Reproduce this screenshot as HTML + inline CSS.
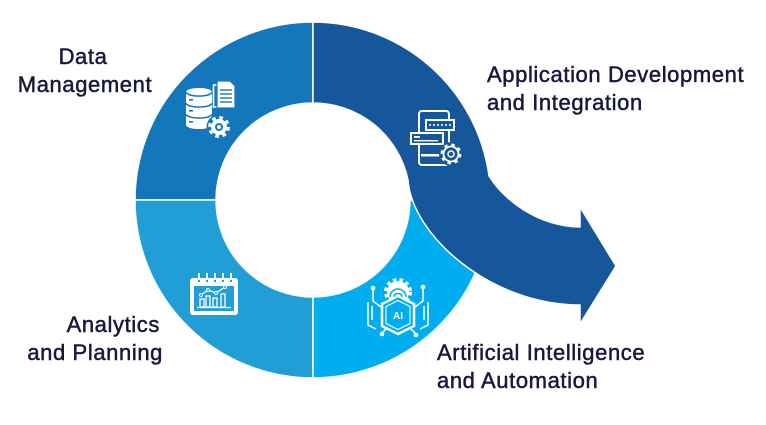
<!DOCTYPE html>
<html><head><meta charset="utf-8"><style>
html,body{margin:0;padding:0;background:#fff;}
svg{display:block}
text.lbl{font-family:"Liberation Sans",sans-serif;font-size:22px;fill:#17183f;stroke:#17183f;stroke-width:0.5px;letter-spacing:0.6px}
</style></head><body>
<svg width="766" height="425" viewBox="0 0 766 425" xmlns="http://www.w3.org/2000/svg">
<rect width="766" height="425" fill="#fff"/>
<g stroke="#fff" stroke-width="1.5">
<path fill="#1577bb" d="M135,200 A178,178 0 0 1 313,22 L313,103 A97,97 0 0 0 216,200 Z"/>
<path fill="#229ed6" d="M135,200 A178,178 0 0 0 313,378 L313,297 A97,97 0 0 1 216,200 Z"/>
<path fill="#00aeef" d="M313,378 A178,178 0 0 0 491,200 L410,200 A97,97 0 0 1 313,297 Z"/>
<path fill="#16579c" d="M313,22 A178,178 0 0 1 489,176 C503,198 535,226 580,227 L580,207 L616,266 L580,324 L580,305 C490,305 412,235 408,180 A97,97 0 0 0 313,103 Z"/>
</g>

<!-- Data management icon -->
<g>
<path fill="#fff" d="M186,92 A13,4 0 0 1 212,92 V125 A13,4 0 0 1 186,125 Z"/>
<g fill="none" stroke="#1577bb" stroke-width="1.6">
<path d="M186,92 A13,4 0 0 0 212,92"/>
<path d="M186,103 A13,4 0 0 0 212,103"/>
<path d="M186,114 A13,4 0 0 0 212,114"/>
</g>
<g fill="#1577bb">
<rect x="189" y="99" width="4" height="1.6"/>
<rect x="189" y="110" width="4" height="1.6"/>
<rect x="189" y="121" width="4" height="1.6"/>
</g>
<rect x="213.5" y="85" width="15" height="22" fill="none" stroke="#fff" stroke-width="1.6"/>
<path d="M217,81 H230 L235,86 V108 H217 Z" fill="#fff" stroke="#1577bb" stroke-width="1.2"/>
<g stroke="#1577bb" stroke-width="1.4">
<line x1="220" y1="90" x2="232" y2="90"/>
<line x1="220" y1="94" x2="232" y2="94"/>
<line x1="220" y1="98" x2="232" y2="98"/>
<line x1="220" y1="102" x2="232" y2="102"/>
</g>
<circle cx="219" cy="127" r="12.5" fill="#1577bb"/>
<circle cx="219" cy="127" r="9" fill="none" stroke="#fff" stroke-width="4" stroke-dasharray="3.5 3.57"/>
<circle cx="219" cy="127" r="8" fill="#fff"/>
<circle cx="219" cy="127" r="4" fill="#1577bb"/>
<circle cx="219" cy="127" r="2" fill="#fff"/>
</g>

<!-- App icon -->
<g>
<rect x="419" y="111" width="30" height="54" rx="3" fill="none" stroke="#fff" stroke-width="2"/>
<rect x="426" y="120" width="28" height="10" fill="#16579c" stroke="#fff" stroke-width="2"/>
<g fill="#fff">
<circle cx="430" cy="125" r="1"/><circle cx="434" cy="125" r="1"/><circle cx="438" cy="125" r="1"/>
<circle cx="442" cy="125" r="1"/><circle cx="446" cy="125" r="1"/><circle cx="450" cy="125" r="1"/>
</g>
<rect x="411" y="133" width="32" height="11" fill="#16579c" stroke="#fff" stroke-width="2"/>
<rect x="414" y="136" width="6" height="1.8" fill="#fff"/>
<rect x="414" y="140" width="24" height="1.4" fill="#fff"/>
<rect x="421" y="154" width="20" height="2.5" fill="#fff"/>
<circle cx="451" cy="154" r="12" fill="#16579c"/>
<circle cx="451" cy="154" r="9" fill="none" stroke="#fff" stroke-width="3" stroke-dasharray="3.3 3.77"/>
<circle cx="451" cy="154" r="7.5" fill="#16579c" stroke="#fff" stroke-width="1.8"/>
<circle cx="451" cy="154" r="3" fill="none" stroke="#fff" stroke-width="1.5"/>
</g>

<!-- Calendar icon -->
<g>
<rect x="190" y="278" width="48" height="37" rx="3" fill="#fff"/>
<rect x="194" y="286" width="40" height="25" fill="#229ed6"/>
<g fill="#fff">
<rect x="198" y="273" width="2" height="7"/>
<rect x="206" y="273" width="2" height="7"/>
<rect x="214" y="273" width="2" height="7"/>
<rect x="222" y="273" width="2" height="7"/>
<rect x="230" y="273" width="2" height="7"/>
</g>
<g fill="#229ed6">
<rect x="198" y="280" width="2" height="2"/>
<rect x="206" y="280" width="2" height="2"/>
<rect x="214" y="280" width="2" height="2"/>
<rect x="222" y="280" width="2" height="2"/>
<rect x="230" y="280" width="2" height="2"/>
</g>
<line x1="197" y1="307.5" x2="231" y2="307.5" stroke="#fff" stroke-width="1.3"/>
<g fill="none" stroke="#fff" stroke-width="1.3">
<rect x="200" y="299" width="4" height="8"/>
<rect x="206" y="296" width="4" height="11"/>
<rect x="213" y="298" width="4" height="9"/>
<rect x="221" y="294" width="4" height="13"/>
<polyline points="201,295 208,290 216,293 225,287"/>
</g>
<g fill="#229ed6" stroke="#fff" stroke-width="1">
<circle cx="201" cy="295" r="1.5"/><circle cx="208" cy="290" r="1.5"/>
<circle cx="216" cy="293" r="1.5"/><circle cx="225" cy="287" r="1.5"/>
</g>
</g>

<!-- AI icon -->
<g>
<circle cx="398" cy="292" r="12" fill="none" stroke="#fff" stroke-width="4" stroke-dasharray="3.4 3.0"/>
<circle cx="398" cy="292" r="11" fill="#fff"/>
<path d="M390,297 A8,8 0 0 1 406,297" fill="none" stroke="#00aeef" stroke-width="1.6"/>
<path d="M393.5,298 A4.5,4.5 0 0 1 402.5,298" fill="none" stroke="#00aeef" stroke-width="1.6"/>
<polygon points="382,304 398,296 414,304 414,326 398,334 382,326" fill="#00aeef" stroke="#fff" stroke-width="2.5"/>
<polygon points="386,306.5 398,300.5 410,306.5 410,323.5 398,329.5 386,323.5" fill="none" stroke="#fff" stroke-width="1.1"/>
<text x="398" y="319" text-anchor="middle" font-family="Liberation Sans, sans-serif" font-size="10" font-weight="bold" fill="#fff">AI</text>
<g fill="none" stroke="#fff" stroke-width="1.5">
<path d="M373,289 V301 L381,307"/>
<path d="M423,289 V301 L415,307"/>
<path d="M368,302 V325 L376,329"/>
<path d="M428,302 V325 L420,329"/>
<path d="M372,306 V320"/>
<path d="M424,306 V320"/>
<path d="M382,333 L387,328"/>
<path d="M416,334 L410,328"/>
</g>
<g fill="#fff">
<circle cx="373" cy="288" r="2.3"/><circle cx="423" cy="287" r="2.3"/>
<circle cx="382" cy="334" r="2.3"/><circle cx="416" cy="335" r="2.3"/>
</g>
</g>

<!-- Labels -->
<text class="lbl" x="83" y="64" text-anchor="middle">Data</text>
<text class="lbl" x="85" y="92" text-anchor="middle">Management</text>
<text class="lbl" x="487" y="82">Application Development</text>
<text class="lbl" x="487" y="110">and Integration</text>
<text class="lbl" x="160" y="332" text-anchor="end">Analytics</text>
<text class="lbl" x="163" y="360" text-anchor="end">and Planning</text>
<text class="lbl" x="437" y="360">Artificial Intelligence</text>
<text class="lbl" x="437" y="388">and Automation</text>
</svg>
</body></html>
